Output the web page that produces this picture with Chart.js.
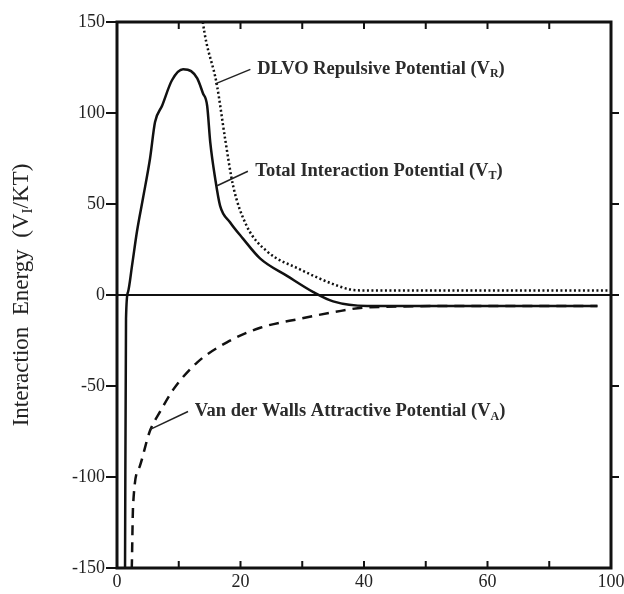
<!DOCTYPE html>
<html>
<head>
<meta charset="utf-8">
<script src="https://cdn.jsdelivr.net/npm/chart.js@4.4.1/dist/chart.umd.min.js"></script>
<style>
  html, body { margin: 0; padding: 0; background: #fff; }
</style>
</head>
<body>
<canvas id="myChart" width="624" height="594"></canvas>
<script>
// separation distance (x) and energy (V/kT)
var totalX = [1.3, 1.46, 1.78, 2.43, 3.24, 4.2, 5.35, 6.16, 7.3, 8.9, 10.7, 12.0, 13.0, 13.9, 14.6, 15.1, 15.9, 16.7, 18.3, 20.4, 23.2, 27.6, 31.8, 35, 40.5, 60, 77.8];
var totalY = [-150, -13, 1.6, 16, 35, 53, 75, 95, 104, 118, 124, 123, 119, 111, 104, 84, 64, 49, 40, 31, 20, 10.4, 1.6, -3.5, -6, -6, -6];

var repX = [13.6, 13.9, 16.2, 17.5, 18.8, 21, 24.3, 29.7, 35, 37.8, 40, 60, 80];
var repY = [160, 150, 115, 86, 60, 38, 24, 14, 6, 3, 2.5, 2.5, 2.5];

var attX = [2.3, 2.4, 2.6, 3.7, 5.3, 7, 9.1, 13, 17.8, 23.2, 29.7, 35, 40.5, 60, 77.8];
var attY = [-160, -149, -116, -94, -75, -64, -52, -37, -26, -18, -13, -9.5, -6.8, -6, -6];

// tick labels (the right end of the axis is labelled 100 in the figure)
var xTickValues = [0, 20, 40, 60, 80];
var xTickLabels = ['0', '20', '40', '60', '100'];
var yTickValues = [-150, -100, -50, 0, 50, 100, 150];

function pts(xs, ys) {
  return xs.map(function (x, i) { return { x: x, y: ys[i] }; });
}

var ink = '#111';
var serif = '"Liberation Serif", "Times New Roman", serif';

// callouts: leader line from a curve point to the label, in data units
var notes = [
  { from: [15.9, 116], to: [21.6, 124], at: [22.7, 124], parts: [['DLVO Repulsive Potential (V', 0], ['R', 1], [')', 0]] },
  { from: [16.2, 60], to: [21.2, 68], at: [22.4, 68], parts: [['Total Interaction Potential (V', 0], ['T', 1], [')', 0]] },
  { from: [5.3, -74], to: [11.5, -64], at: [12.6, -64], parts: [['Van der Walls Attractive Potential (V', 0], ['A', 1], [')', 0]] }
];

function drawParts(ctx, x, y, parts, size, subSize) {
  parts.forEach(function (p) {
    ctx.font = 'bold ' + (p[1] ? subSize : size) + 'px ' + serif;
    ctx.fillText(p[0], x, p[1] ? y + 5 : y);
    x += ctx.measureText(p[0]).width;
  });
}

var decor = {
  id: 'decor',
  beforeDatasetsDraw: function (chart) {
    var ctx = chart.ctx, a = chart.chartArea, ys = chart.scales.y;
    var y0 = ys.getPixelForValue(0);
    ctx.save();
    ctx.strokeStyle = ink;
    ctx.lineWidth = 2;
    ctx.beginPath();
    ctx.moveTo(a.left, y0);
    ctx.lineTo(a.right, y0);
    ctx.stroke();
    ctx.restore();
  },
  afterDatasetsDraw: function (chart) {
    var ctx = chart.ctx, a = chart.chartArea, xs = chart.scales.x, ys = chart.scales.y;
    ctx.save();
    ctx.strokeStyle = ink;
    ctx.lineWidth = 3;
    ctx.strokeRect(a.left, a.top, a.right - a.left, a.bottom - a.top);

    ctx.lineWidth = 2;
    ctx.beginPath();
    // inward ticks top and bottom
    for (var v = 10; v < 80; v += 10) {
      var px = xs.getPixelForValue(v);
      ctx.moveTo(px, a.bottom);
      ctx.lineTo(px, a.bottom - 7);
      ctx.moveTo(px, a.top);
      ctx.lineTo(px, a.top + 7);
    }
    // outward ticks on right
    yTickValues.forEach(function (t) {
      if (t === -150 || t === 150) return;
      var py = ys.getPixelForValue(t);
      ctx.moveTo(a.right, py);
      ctx.lineTo(a.right + 8, py);
    });
    ctx.stroke();

    // callouts
    ctx.fillStyle = '#2b2b2b';
    ctx.strokeStyle = '#222';
    ctx.lineWidth = 1.5;
    ctx.textBaseline = 'middle';
    ctx.textAlign = 'left';
    notes.forEach(function (n) {
      ctx.beginPath();
      ctx.moveTo(xs.getPixelForValue(n.from[0]), ys.getPixelForValue(n.from[1]));
      ctx.lineTo(xs.getPixelForValue(n.to[0]), ys.getPixelForValue(n.to[1]));
      ctx.stroke();
      drawParts(ctx, xs.getPixelForValue(n.at[0]), ys.getPixelForValue(n.at[1]), n.parts, 18.5, 12);
    });

    // y axis title with subscript
    ctx.translate(22, (a.top + a.bottom) / 2);
    ctx.rotate(-Math.PI / 2);
    ctx.fillStyle = '#222';
    var title = [['Interaction  Energy  (V', 0], ['I', 1], ['/KT)', 0]];
    var w = 0;
    title.forEach(function (p) {
      ctx.font = (p[1] ? 15 : 23) + 'px ' + serif;
      w += ctx.measureText(p[0]).width;
    });
    var x = -w / 2;
    title.forEach(function (p) {
      ctx.font = (p[1] ? 15 : 23) + 'px ' + serif;
      ctx.fillText(p[0], x, p[1] ? 6 : 0);
      x += ctx.measureText(p[0]).width;
    });
    ctx.restore();
  }
};

var ctx = document.getElementById('myChart').getContext('2d');

var myChart = new Chart(ctx, {
  type: 'scatter',
  data: {
    datasets: [
      {
        label: 'Total Interaction Potential',
        data: pts(totalX, totalY),
        showLine: true,
        borderColor: ink,
        borderWidth: 2.5,
        pointRadius: 0,
        cubicInterpolationMode: 'monotone'
      },
      {
        label: 'DLVO Repulsive Potential',
        data: pts(repX, repY),
        showLine: true,
        borderColor: ink,
        borderWidth: 2.5,
        borderDash: [2, 2.5],
        pointRadius: 0,
        cubicInterpolationMode: 'monotone'
      },
      {
        label: 'Van der Walls Attractive Potential',
        data: pts(attX, attY),
        showLine: true,
        borderColor: ink,
        borderWidth: 2.5,
        borderDash: [10, 7],
        pointRadius: 0,
        cubicInterpolationMode: 'monotone'
      }
    ]
  },
  options: {
    responsive: false,
    animation: false,
    events: [],
    layout: { autoPadding: false, padding: { top: 22, right: 13, left: 0, bottom: 0 } },
    plugins: {
      legend: { display: false },
      tooltip: { enabled: false }
    },
    scales: {
      x: {
        type: 'linear',
        min: 0,
        max: 80,
        grid: { display: false, drawTicks: false },
        border: { display: false },
        afterBuildTicks: function (scale) {
          scale.ticks = xTickValues.map(function (v) { return { value: v }; });
        },
        afterFit: function (scale) {
          scale.height = 26;
          scale.paddingLeft = 0;
          scale.paddingRight = 0;
        },
        ticks: {
          autoSkip: false,
          maxRotation: 0,
          padding: 3,
          color: '#222',
          font: { family: serif, size: 18 },
          callback: function (value) {
            var i = xTickValues.indexOf(value);
            return i >= 0 ? xTickLabels[i] : '';
          }
        }
      },
      y: {
        type: 'linear',
        min: -150,
        max: 150,
        grid: { drawOnChartArea: false, drawTicks: true, tickLength: 11, lineWidth: 2, color: ink },
        border: { display: false },
        afterBuildTicks: function (scale) {
          scale.ticks = yTickValues.map(function (v) { return { value: v }; });
        },
        afterFit: function (scale) {
          scale.width = 117;
          scale.paddingTop = 0;
          scale.paddingBottom = 0;
        },
        ticks: {
          padding: 1,
          color: '#222',
          font: { family: serif, size: 18 }
        }
      }
    }
  },
  plugins: [decor]
});
</script>
</body>
</html>
